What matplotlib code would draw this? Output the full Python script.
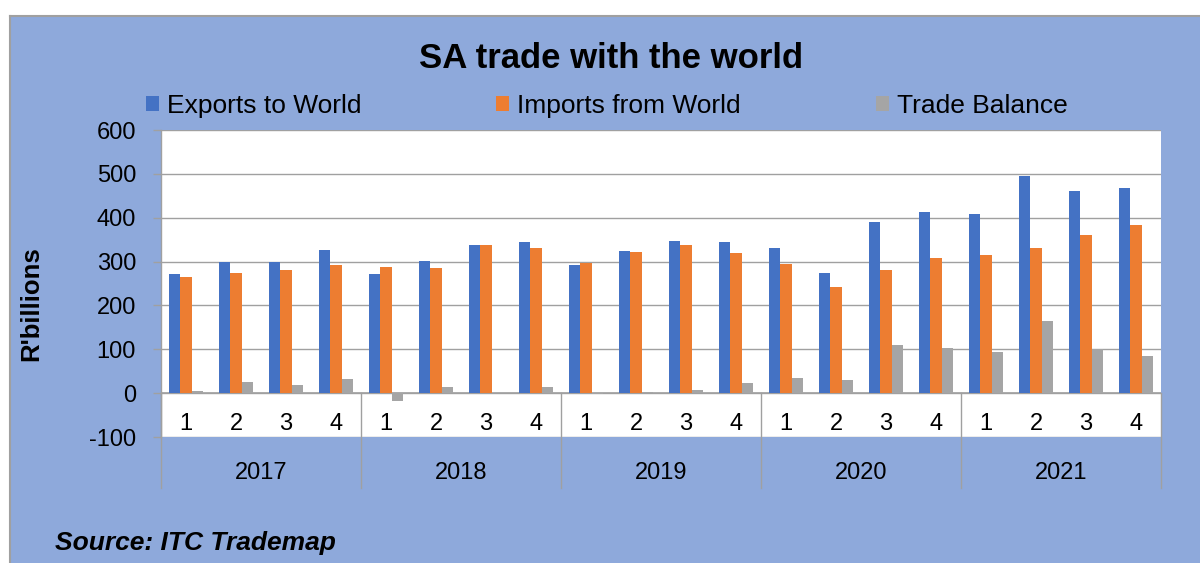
import matplotlib
matplotlib.use("Agg")
import matplotlib.pyplot as plt
from matplotlib.patches import Rectangle
import numpy as np

plt.rcParams['font.family'] = ['Liberation Sans', 'DejaVu Sans']
plt.rcParams['axes.unicode_minus'] = False

years = ["2017", "2018", "2019", "2020", "2021"]
quarters = ["1", "2", "3", "4"]
exports = [271, 300, 300, 326, 271, 301, 338, 345,
           293, 325, 346, 344, 330, 274, 390, 414,
           408, 494, 462, 468]
imports = [264, 275, 280, 292, 288, 285, 337, 330,
           297, 322, 338, 320, 294, 243, 280, 309,
           314, 330, 360, 383]
balance = [6, 25, 18, 33, -18, 15, 1, 15,
           -3, 2, 8, 24, 35, 29, 109, 104,
           94, 164, 101, 85]
series_names = ["Exports to World", "Imports from World", "Trade Balance"]
colors = ["#4472C4", "#ED7D31", "#A5A5A5"]

W, H = 1200, 563
fig = plt.figure(figsize=(W / 100, H / 100), dpi=100, facecolor="white")

# blue chart background with gray border (top/left)
bg = Rectangle((10 / W, 0), 1 - 10 / W, 1 - 16 / H, transform=fig.transFigure,
               facecolor="#8EA9DB", edgecolor="none", zorder=-10)
fig.add_artist(bg)
fig.add_artist(plt.Line2D([10 / W, 1], [1 - 16 / H, 1 - 16 / H], transform=fig.transFigure,
                          color="#A0A0A0", lw=1.5, zorder=-9))
fig.add_artist(plt.Line2D([10 / W, 10 / W], [0, 1 - 16 / H], transform=fig.transFigure,
                          color="#A0A0A0", lw=1.5, zorder=-9))

left, right, top, bottom = 161, 1161, 130, 437
ax = fig.add_axes([left / W, 1 - bottom / H, (right - left) / W, (bottom - top) / H])
ax.set_zorder(1)
ax.set_facecolor("white")

x = np.arange(len(exports))
bw = 0.225
bars = []
for k, (vals, c) in enumerate(zip([exports, imports, balance], colors)):
    b = ax.bar(x + (k - 1) * bw, vals, width=bw, color=c, zorder=3, label=series_names[k])
    bars.append(b)

ax.set_xlim(-0.5, len(exports) - 0.5)
ax.set_ylim(-100, 600)
ax.set_yticks(np.arange(-100, 601, 100))
ax.yaxis.grid(True, color="#A0A0A0", lw=1.0, zorder=1)
ax.set_axisbelow(True)
ax.set_xticks([])
ax.tick_params(axis="y", labelsize=17, length=6, width=1.0, color="#A0A0A0", pad=12,
               labelcolor="black")
for s in ["top", "bottom", "right"]:
    ax.spines[s].set_visible(False)
ax.spines["left"].set_color("#A0A0A0")
ax.spines["left"].set_linewidth(1.0)

# zero line
ax.axhline(0, color="#A0A0A0", lw=1.2, zorder=2)

# category labels (quarters inside plot area, years below)
for i in range(len(exports)):
    ax.text(i, -71, quarters[i % 4], ha="center", va="center", fontsize=17, color="black")
for j, yr in enumerate(years):
    ax.text(j * 4 + 1.5, -181, yr, ha="center", va="center", fontsize=17, color="black",
            clip_on=False)
for j in range(len(years) + 1):
    ax.plot([j * 4 - 0.5, j * 4 - 0.5], [0, -216], color="#A0A0A0", lw=1.0,
            clip_on=False, zorder=4)

ax.set_ylabel("R'billions", fontsize=18.5, fontweight="bold")
ax.yaxis.set_label_coords(-(161 - 43) / 1000, (437 - 304) / 307)

fig.text(611 / W, 1 - 59 / H, "SA trade with the world", ha="center", va="center",
         fontsize=25, fontweight="bold")

fig.legend(handles=bars, labels=series_names, loc="center left",
           bbox_to_anchor=(146 / W, 1 - 106 / H), ncol=3, frameon=False,
           fontsize=19, handlelength=0.5, handleheight=0.5, handletextpad=0.3,
           columnspacing=5.1, borderpad=0, borderaxespad=0)

fig.text(55 / W, 1 - 543 / H, "Source: ITC Trademap", ha="left", va="center",
         fontsize=19, fontweight="bold", style="italic")

fig.savefig("out.png", dpi=100, facecolor="white")
